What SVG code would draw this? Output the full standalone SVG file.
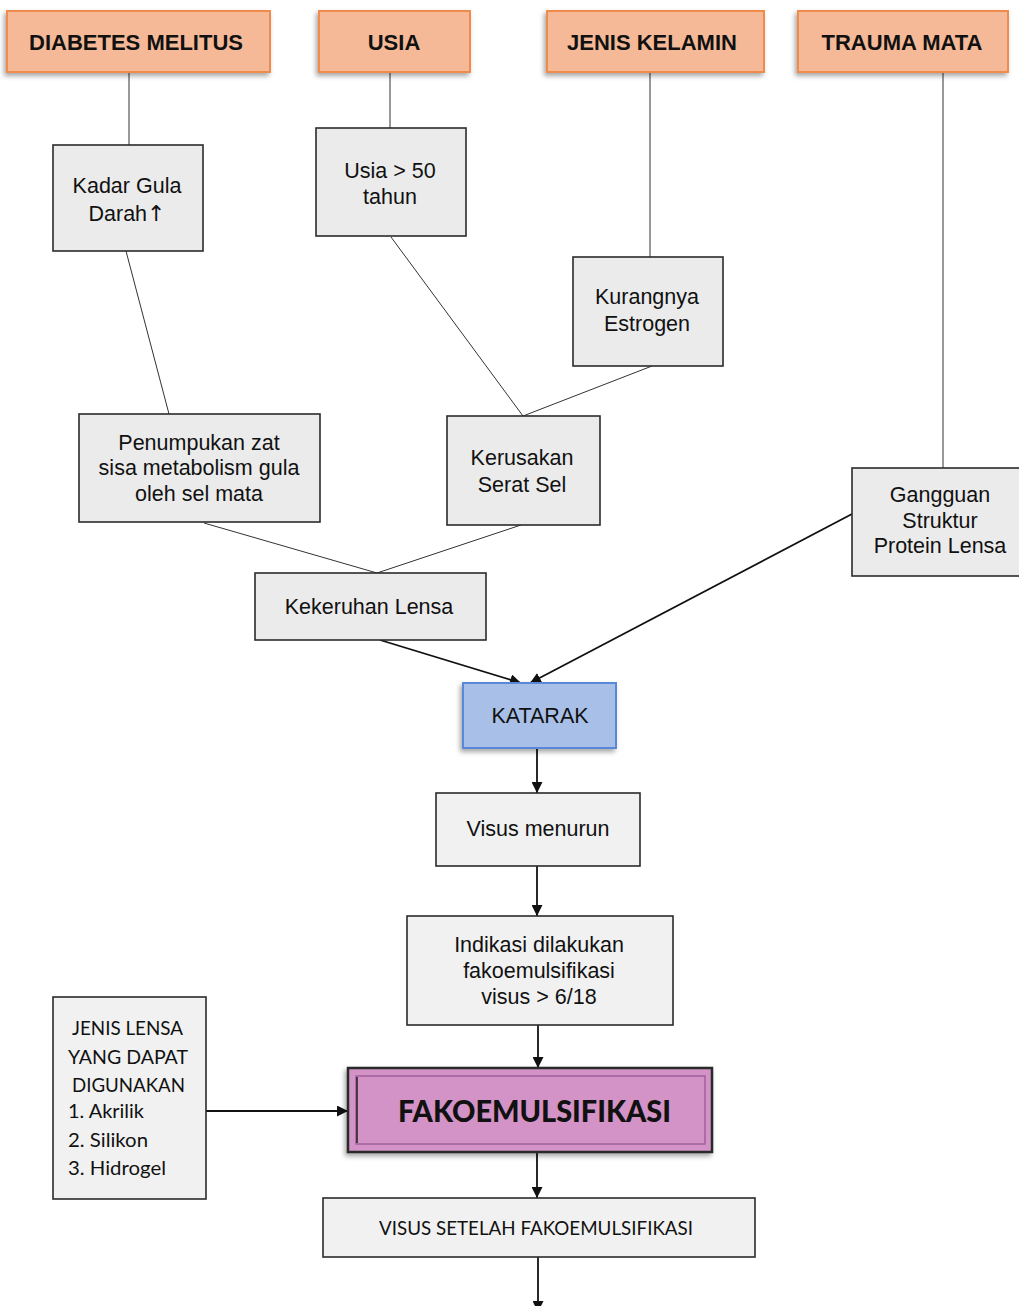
<svg xmlns="http://www.w3.org/2000/svg" width="1019" height="1306" viewBox="0 0 1019 1306">
<defs>
<style>
.t{font-family:"Liberation Sans",Arial,sans-serif;font-size:21.5px;fill:#111;text-anchor:middle}
.h{font-family:"Liberation Sans",Arial,sans-serif;font-size:22px;font-weight:bold;fill:#111;text-anchor:middle}
.c{font-family:Lato,"Open Sans",sans-serif;fill:#111}
.or{fill:#f5b997;stroke:#ef8b4c;stroke-width:2}
.gb{fill:#ebebeb;stroke:#2b2b2b;stroke-width:1.6}
.lb{fill:#f1f1f1;stroke:#2b2b2b;stroke-width:1.6}
.ln{stroke:#333;stroke-width:1;fill:none}
.ar{stroke:#111;stroke-width:1.8;fill:none}
</style>
<marker id="ah" viewBox="0 0 10 10" refX="10" refY="5" markerWidth="11" markerHeight="11" markerUnits="userSpaceOnUse" orient="auto">
<path d="M0,0 L10,5 L0,10 z" fill="#111"/>
</marker>
<filter id="sh" x="-10%" y="-20%" width="125%" height="150%">
<feDropShadow dx="-2" dy="3" stdDeviation="2.5" flood-color="#000" flood-opacity="0.35"/>
</filter>
</defs>
<rect width="1019" height="1306" fill="#fff"/>

<g id="connectors">
<line class="ln" x1="129" y1="72" x2="129" y2="145"/>
<line class="ln" x1="390" y1="72" x2="390" y2="128"/>
<line class="ln" x1="650" y1="72" x2="650" y2="257"/>
<line class="ln" x1="943" y1="72" x2="943" y2="468"/>
<line class="ln" x1="126" y1="251" x2="169" y2="414"/>
<line class="ln" x1="391" y1="237" x2="523" y2="416"/>
<line class="ln" x1="652" y1="366" x2="523" y2="416"/>
<line class="ln" x1="204" y1="523" x2="377" y2="573"/>
<line class="ln" x1="521" y1="525" x2="377" y2="573"/>
<line class="ar" x1="380" y1="640" x2="521" y2="683" marker-end="url(#ah)"/>
<line class="ar" x1="852" y1="514" x2="530" y2="683" marker-end="url(#ah)"/>
<line class="ar" x1="537" y1="748" x2="537" y2="793" marker-end="url(#ah)"/>
<line class="ar" x1="537" y1="866" x2="537" y2="916" marker-end="url(#ah)"/>
<line class="ar" x1="538" y1="1025" x2="538" y2="1068" marker-end="url(#ah)"/>
<line class="ar" x1="206" y1="1111" x2="348" y2="1111" marker-end="url(#ah)"/>
<line class="ar" x1="537" y1="1152" x2="537" y2="1198" marker-end="url(#ah)"/>
<line class="ar" x1="538" y1="1257" x2="538" y2="1312" marker-end="url(#ah)"/>
</g>

<g id="n-diabetes">
<rect class="or" x="7" y="11" width="263" height="61" filter="url(#sh)"/>
<text class="h" x="136" y="50">DIABETES MELITUS</text>
</g>
<g id="n-usia">
<rect class="or" x="319" y="11" width="151" height="61" filter="url(#sh)"/>
<text class="h" x="394" y="50">USIA</text>
</g>
<g id="n-jenis-kelamin">
<rect class="or" x="547" y="11" width="217" height="61" filter="url(#sh)"/>
<text class="h" x="652" y="50">JENIS KELAMIN</text>
</g>
<g id="n-trauma">
<rect class="or" x="798" y="11" width="210" height="61" filter="url(#sh)"/>
<text class="h" x="902" y="50">TRAUMA MATA</text>
</g>

<g id="n-kadar-gula">
<rect class="gb" x="53" y="145" width="150" height="106"/>
<text class="t" x="127" y="193">Kadar Gula</text>
<text class="t" x="127" y="221">Darah<tspan font-family="'DejaVu Sans',sans-serif" font-size="22">↑</tspan></text>
</g>
<g id="n-usia50">
<rect class="gb" x="316" y="128" width="150" height="108"/>
<text class="t" x="390" y="178">Usia &gt; 50</text>
<text class="t" x="390" y="204">tahun</text>
</g>
<g id="n-estrogen">
<rect class="gb" x="573" y="257" width="150" height="109"/>
<text class="t" x="647" y="304">Kurangnya</text>
<text class="t" x="647" y="331">Estrogen</text>
</g>
<g id="n-penumpukan">
<rect class="gb" x="79" y="414" width="241" height="108"/>
<text class="t" x="199" y="450">Penumpukan zat</text>
<text class="t" x="199" y="475">sisa metabolism gula</text>
<text class="t" x="199" y="501">oleh sel mata</text>
</g>
<g id="n-kerusakan">
<rect class="gb" x="447" y="416" width="153" height="109"/>
<text class="t" x="522" y="465">Kerusakan</text>
<text class="t" x="522" y="492">Serat Sel</text>
</g>
<g id="n-gangguan">
<rect class="gb" x="852" y="468" width="172" height="108"/>
<text class="t" x="940" y="502">Gangguan</text>
<text class="t" x="940" y="528">Struktur</text>
<text class="t" x="940" y="553">Protein Lensa</text>
</g>
<g id="n-kekeruhan">
<rect class="gb" x="255" y="573" width="231" height="67"/>
<text class="t" x="369" y="614">Kekeruhan Lensa</text>
</g>
<g id="n-katarak">
<rect x="463" y="683" width="153" height="65" fill="#a8c0e8" stroke="#5a88d8" stroke-width="2" filter="url(#sh)"/>
<text class="t" x="540" y="723">KATARAK</text>
</g>
<g id="n-visus-menurun">
<rect class="lb" x="436" y="793" width="204" height="73"/>
<text class="t" x="538" y="836">Visus menurun</text>
</g>
<g id="n-indikasi">
<rect class="lb" x="407" y="916" width="266" height="109"/>
<text class="t" x="539" y="952">Indikasi dilakukan</text>
<text class="t" x="539" y="978">fakoemulsifikasi</text>
<text class="t" x="539" y="1004">visus &gt; 6/18</text>
</g>
<g id="n-jenis-lensa">
<rect class="lb" x="53" y="997" width="153" height="202"/>
<text class="c" font-size="20" text-anchor="middle" x="127.5" y="1035" textLength="111" lengthAdjust="spacingAndGlyphs">JENIS LENSA</text>
<text class="c" font-size="20" text-anchor="middle" x="128" y="1064" textLength="120" lengthAdjust="spacingAndGlyphs">YANG DAPAT</text>
<text class="c" font-size="20" text-anchor="middle" x="128.5" y="1092" textLength="113" lengthAdjust="spacingAndGlyphs">DIGUNAKAN</text>
<text class="c" font-size="20" x="68" y="1118" textLength="76" lengthAdjust="spacingAndGlyphs">1. Akrilik</text>
<text class="c" font-size="20" x="68" y="1147" textLength="80" lengthAdjust="spacingAndGlyphs">2. Silikon</text>
<text class="c" font-size="20" x="68" y="1175" textLength="98" lengthAdjust="spacingAndGlyphs">3. Hidrogel</text>
</g>
<g id="n-fako">
<rect x="348" y="1068" width="364" height="84" fill="#d393c6" stroke="#2a2a2a" stroke-width="2.5" filter="url(#sh)"/>
<rect x="356" y="1076" width="349" height="68" fill="none" stroke="#a0609a" stroke-width="1.5"/>
<line x1="357" y1="1077" x2="357" y2="1143" stroke="#222" stroke-width="1.5"/>
<text class="c" font-size="31" font-weight="900" text-anchor="middle" x="534.5" y="1122" textLength="273" lengthAdjust="spacingAndGlyphs">FAKOEMULSIFIKASI</text>
</g>
<g id="n-visus-setelah">
<rect class="lb" x="323" y="1198" width="432" height="59"/>
<text class="c" font-size="20" text-anchor="middle" x="536" y="1235" textLength="314" lengthAdjust="spacingAndGlyphs">VISUS SETELAH FAKOEMULSIFIKASI</text>
</g>
</svg>
